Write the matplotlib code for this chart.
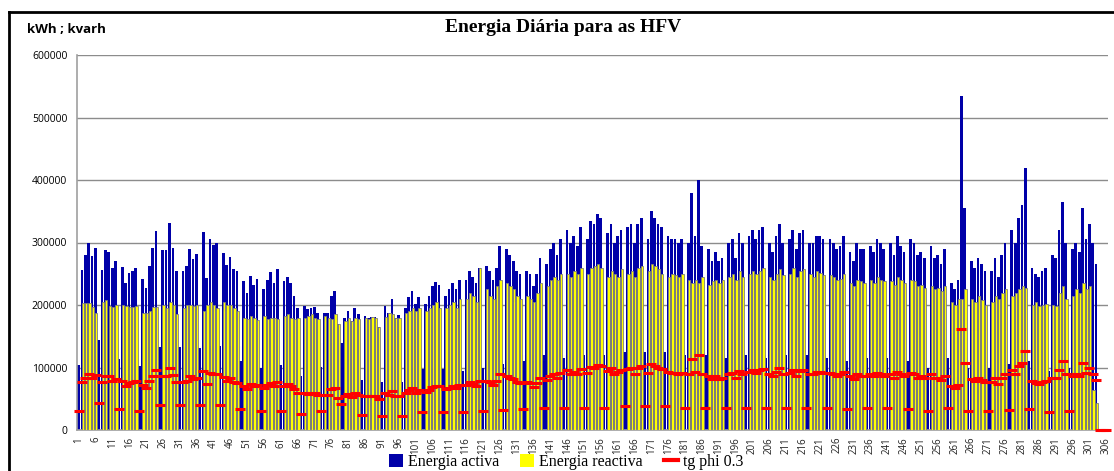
import numpy as np
import matplotlib
matplotlib.use("Agg")
import matplotlib.pyplot as plt
from matplotlib.patches import Patch
from matplotlib.lines import Line2D

# ---- data (thousands of kWh / kvarh), 306 days ----
days = list(range(1, 307))

activa_k = [
    104,256,280,300,278,292, 144,256,288,285,259,270, 114,261,236,252,255,259,
    102,241,227,262,291,319, 133,288,288,332,292,255, 133,255,263,290,274,281,
    132,317,244,306,296,300, 134,284,264,277,258,254, 110,238,219,247,232,241,
    100,225,240,253,235,258, 104,238,245,236,215,195,  86,199,194,195,197,188,
    101,188,187,215,222,170, 139,180,190,175,195,185,  80,183,179,181,181,165,
     77,199,188,209,179,184,  77,195,213,222,201,213,  98,202,214,230,237,232,
     98,215,225,235,225,240,  95,240,255,245,235,260, 100,262,255,240,260,295,
    105,290,280,270,255,250, 110,255,250,230,250,275, 120,265,290,300,280,305,
    115,320,300,310,295,325, 120,305,335,330,345,340, 120,315,330,300,310,320,
    125,325,330,300,330,340, 125,305,350,340,330,325, 125,310,305,305,300,305,
    120,300,380,310,400,295, 120,290,270,285,270,275, 115,300,305,275,315,300,
    120,310,320,305,320,325, 115,300,285,310,330,300, 120,305,320,290,315,320,
    120,300,300,310,310,305, 115,305,300,290,295,310, 110,285,270,300,290,290,
    115,295,285,305,300,290, 115,300,280,310,295,285, 110,305,300,280,285,275,
    100,295,275,280,265,290, 115,235,225,240,535,355, 100,270,260,275,265,255,
    100,255,275,245,280,300, 105,320,300,340,360,420, 110,260,250,245,255,260,
     95,280,275,320,365,300, 100,290,300,285,355,305, 330,300,265,
    np.nan, np.nan, np.nan,
]

reactiva_k = [
    0,203,203,203,197,188, 0,205,208,198,197,200, 0,200,198,197,197,198,
    0,187,187,190,197,197, 0,200,195,205,200,185, 0,195,200,200,198,200,
    0,190,200,205,200,195, 0,205,200,200,195,190, 0,180,178,182,180,176,
    0,182,178,180,180,178, 0,182,185,180,178,180, 0,180,182,185,180,178,
    0,182,180,178,185,170, 0,175,180,175,180,178, 0,180,178,181,180,165,
    0,181,188,185,179,180, 0,188,190,195,190,195, 0,190,195,200,205,195,
    0,195,200,205,195,210, 0,210,220,215,205,260, 0,225,215,210,230,240,
    0,235,230,225,215,210, 0,215,210,205,220,235, 0,230,240,245,240,250,
    0,250,245,255,250,260, 0,250,260,262,265,260, 0,245,255,250,245,258,
    0,250,255,245,260,262, 0,255,265,262,258,250, 0,245,250,248,245,250,
    0,240,235,240,235,245, 0,232,238,240,235,240, 0,245,250,240,255,245,
    0,250,255,250,255,260, 0,245,240,250,258,248, 0,250,260,245,255,258,
    0,250,245,255,252,248, 0,248,245,240,242,250, 0,235,230,240,238,235,
    0,240,235,245,240,238, 0,238,232,245,240,235, 0,240,238,230,232,228,
    0,230,225,228,222,230, 0,205,200,210,210,225, 0,210,205,215,208,200,
    0,205,215,210,220,225, 0,215,220,225,230,228, 0,200,205,198,200,202,
    0,200,198,220,230,210, 0,215,225,220,235,225, 230,64,43,
    np.nan, np.nan, np.nan,
]

tgphi_k = [
    31,77,84,90,83,88, 43,77,86,86,78,81, 34,78,71,76,77,78,
    31,72,68,79,87,96, 40,86,86,100,88,77, 40,77,79,87,82,84,
    40,95,73,92,89,90, 40,85,79,83,77,76, 33,71,66,74,70,72,
    30,68,72,76,71,77, 31,71,74,71,65,59, 26,60,58,59,59,56,
    30,56,56,65,67,51, 42,54,57,53,59,56, 24,55,54,54,54,50,
    23,60,56,63,54,55, 23,59,64,67,60,64, 29,61,64,69,71,70,
    29,65,68,71,68,72, 29,72,77,74,71,78, 30,79,77,72,78,89,
    32,87,84,81,77,75, 33,77,75,69,75,83, 36,80,87,90,84,92,
    35,96,90,93,89,98, 36,92,101,99,104,102, 36,95,99,90,93,96,
    38,98,99,90,99,102, 38,92,105,102,99,98, 38,93,92,92,90,92,
    36,90,114,93,120,89, 36,87,81,86,81,83, 35,90,92,83,95,90,
    36,93,96,92,96,98, 35,90,86,93,99,90, 36,92,96,87,95,96,
    36,90,90,93,93,92, 35,92,90,87,89,93, 33,86,81,90,87,87,
    35,89,86,92,90,87, 35,90,84,93,89,86, 33,92,90,84,86,83,
    30,89,83,84,80,87, 35,71,68,72,161,107, 30,81,78,83,80,77,
    30,77,83,74,84,90, 32,96,90,102,108,126, 33,78,75,74,77,78,
    29,84,83,96,110,90, 30,87,90,86,107,92, 99,90,80,
    0, 0, 0,
]

tick_labels = [str(d) for d in range(1, 307, 5)]

# ---- figure ----
W, H = 1114, 471
fig = plt.figure(figsize=(W / 100, H / 100), dpi=100)
ax = fig.add_axes([77 / W, (H - 430) / H, (1108 - 77) / W, (430 - 55) / H])

x = np.array(days, dtype=float)
activa = np.array(activa_k, dtype=float) * 1000
reactiva = np.array(reactiva_k, dtype=float) * 1000
tgphi = np.array(tgphi_k, dtype=float) * 1000

ax.bar(x - 0.05, activa, width=0.8, color="#0000A8", linewidth=0, zorder=2)
ax.bar(x + 0.2, reactiva, width=0.7, color="#FFFF00", edgecolor="#7F7F7F",
       linewidth=0.6, zorder=3)
ax.plot(x, tgphi, linestyle="none", marker="_", markersize=7, markeredgewidth=2.2,
        color="#FF0000", zorder=4, clip_on=False)

ax.set_xlim(0.5, 306.5)
ax.set_ylim(0, 600000)
ax.set_yticks(np.arange(0, 600001, 100000))
ax.set_yticklabels([str(v) for v in range(0, 600001, 100000)],
                   fontsize=7.5, family="Open Sans")
ax.set_xticks(np.arange(1, 307, 5))
ax.set_xticklabels(tick_labels, rotation=90, fontsize=7, family="Open Sans",
                   color="#222222")
ax.tick_params(axis="both", length=0)
ax.tick_params(axis="y", pad=7)
ax.tick_params(axis="x", pad=5)
ax.grid(axis="y", color="#8C8C8C", linewidth=1.0, zorder=0)
ax.set_axisbelow(True)
for s in ["top", "right"]:
    ax.spines[s].set_visible(False)
for s in ["left", "bottom"]:
    ax.spines[s].set_color("#A0A0A0")
    ax.spines[s].set_linewidth(1.2)

# titles
fig.text(563 / W, 1 - 28 / H, "Energia Diária para as HFV", ha="center", va="center",
         fontsize=14, fontweight="bold", family="Liberation Serif")
fig.text(27 / W, 1 - 29 / H, "kWh ; kvarh", ha="left", va="center",
         fontsize=9.5, fontweight="bold", family="Open Sans")

# outer chart border (left & top visible)
fig.add_artist(Line2D([9 / W, 9 / W], [0, 1 - 12 / H], transform=fig.transFigure,
                      color="black", linewidth=2))
fig.add_artist(Line2D([9 / W, 1], [1 - 12 / H, 1 - 12 / H], transform=fig.transFigure,
                      color="black", linewidth=2))

# legend
handles = [Patch(facecolor="#0000A8", edgecolor="none"),
           Patch(facecolor="#FFFF00", edgecolor="none"),
           Line2D([], [], color="#FF0000", linewidth=3)]
labels = ["Energia activa", "Energia reactiva", "tg phi 0.3"]
fig.legend(handles, labels, loc="center", bbox_to_anchor=(566 / W, 1 - 462 / H),
           ncol=3, frameon=False, prop={"family": "Liberation Serif", "size": 11.5},
           handlelength=0.9, handleheight=0.9, handletextpad=0.3, columnspacing=1.3,
           borderpad=0.1)

fig.savefig("out.png", dpi=100)
